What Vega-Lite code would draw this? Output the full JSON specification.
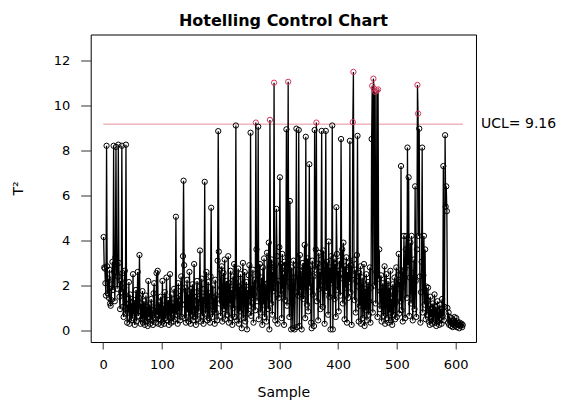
{
  "$schema": "https://vega.github.io/schema/vega-lite/v6.json",
  "width": 385.3,
  "height": 307.5,
  "autosize": "none",
  "padding": {"left": 90.7, "top": 34.5, "right": 87, "bottom": 59},
  "background": "white",
  "title": {
    "text": "Hotelling Control Chart",
    "font": "DejaVu Sans",
    "fontSize": 16,
    "fontWeight": "bold",
    "color": "black",
    "anchor": "middle",
    "baseline": "bottom",
    "offset": 10,
    "dy": 20
  },
  "config": {
    "view": {"stroke": "black", "strokeWidth": 1},
    "axis": {
      "grid": false,
      "domain": false,
      "tickColor": "#333333",
      "labelColor": "black",
      "labelFont": "DejaVu Sans",
      "labelFontSize": 13,
      "titleColor": "black",
      "titleFont": "DejaVu Sans",
      "titleFontSize": 14,
      "titleFontWeight": "normal"
    }
  },
  "encoding": {
    "x": {
      "field": "s",
      "type": "quantitative",
      "scale": {"domain": [-21, 634.6], "nice": false, "zero": false},
      "axis": {
        "title": "Sample",
        "values": [0, 100, 200, 300, 400, 500, 600],
        "tickSize": 7,
        "labelPadding": 9,
        "titleY": 50,
        "titleBaseline": "middle"
      }
    },
    "y": {
      "field": "t",
      "type": "quantitative",
      "scale": {"domain": [-0.51, 13.14], "nice": false, "zero": false},
      "axis": {
        "title": "T²",
        "values": [0, 2, 4, 6, 8, 10, 12],
        "tickSize": 10,
        "labelPadding": 11,
        "titleX": -72,
        "titleY": 153.5,
        "titleAlign": "center",
        "titleBaseline": "middle",
        "titleAngle": -90
      }
    }
  },
  "layer": [
    {
      "data": {"values": [{"from": 0.5, "to": 612.5, "ucl": 9.16}]},
      "mark": {"type": "rule", "color": "#e8909c", "strokeWidth": 1},
      "encoding": {
        "x": {"field": "from", "type": "quantitative"},
        "x2": {"field": "to"},
        "y": {"field": "ucl", "type": "quantitative"}
      }
    },
    {
      "data": {"name": "t2"},
      "layer": [
        {"mark": {"type": "line", "color": "black", "strokeWidth": 1.3}},
        {
          "mark": {"type": "point", "shape": "circle", "filled": false, "size": 28, "strokeWidth": 1, "opacity": 1},
          "encoding": {
            "color": {
              "condition": {"test": "datum.t > 9.16", "value": "#d2375a"},
              "value": "black"
            }
          }
        }
      ]
    },
    {
      "data": {"values": [{"edge": 634.6, "ucl": 9.16, "label": "UCL= 9.16"}]},
      "mark": {"type": "text", "align": "left", "baseline": "middle", "dx": 5, "font": "DejaVu Sans", "fontSize": 14, "color": "black"},
      "encoding": {
        "x": {"field": "edge", "type": "quantitative"},
        "y": {"field": "ucl", "type": "quantitative"},
        "text": {"field": "label"}
      }
    }
  ],
  "datasets": {
    "t2": [
      {"s":1,"t":4.15},{"s":2,"t":2.80},{"s":3,"t":2.75},{"s":4,"t":2.10},{"s":5,"t":1.55},{"s":6,"t":8.20},{"s":7,"t":2.85},{"s":8,"t":1.65},{"s":9,"t":2.30},{"s":10,"t":1.45},
      {"s":11,"t":2.70},{"s":12,"t":1.20},{"s":13,"t":1.10},{"s":14,"t":1.35},{"s":15,"t":2.05},{"s":16,"t":3.05},{"s":17,"t":1.80},{"s":18,"t":8.20},{"s":19,"t":2.60},{"s":20,"t":1.30},
      {"s":21,"t":3.25},{"s":22,"t":8.15},{"s":23,"t":2.95},{"s":24,"t":1.85},{"s":25,"t":2.40},{"s":26,"t":8.25},{"s":27,"t":3.00},{"s":28,"t":1.50},{"s":29,"t":0.95},{"s":30,"t":2.20},
      {"s":31,"t":1.70},{"s":32,"t":8.20},{"s":33,"t":2.55},{"s":34,"t":1.05},{"s":35,"t":0.60},{"s":36,"t":1.90},{"s":37,"t":2.65},{"s":38,"t":0.75},{"s":39,"t":8.25},{"s":40,"t":1.40},
      {"s":41,"t":0.35},{"s":42,"t":1.15},{"s":43,"t":0.80},{"s":44,"t":2.15},{"s":45,"t":0.30},{"s":46,"t":1.60},{"s":47,"t":0.90},{"s":48,"t":0.45},{"s":49,"t":1.25},{"s":50,"t":0.55},
      {"s":51,"t":2.50},{"s":52,"t":0.70},{"s":53,"t":1.35},{"s":54,"t":0.25},{"s":55,"t":0.95},{"s":56,"t":1.80},{"s":57,"t":0.40},{"s":58,"t":1.10},{"s":59,"t":2.60},{"s":60,"t":0.65},
      {"s":61,"t":1.45},{"s":62,"t":3.35},{"s":63,"t":0.85},{"s":64,"t":0.30},{"s":65,"t":1.20},{"s":66,"t":0.50},{"s":67,"t":1.75},{"s":68,"t":0.35},{"s":69,"t":0.95},{"s":70,"t":1.30},
      {"s":71,"t":0.25},{"s":72,"t":0.80},{"s":73,"t":1.55},{"s":74,"t":0.40},{"s":75,"t":1.05},{"s":76,"t":0.20},{"s":77,"t":2.20},{"s":78,"t":0.60},{"s":79,"t":1.15},{"s":80,"t":0.30},
      {"s":81,"t":0.75},{"s":82,"t":1.40},{"s":83,"t":0.45},{"s":84,"t":0.90},{"s":85,"t":0.25},{"s":86,"t":1.65},{"s":87,"t":2.10},{"s":88,"t":0.55},{"s":89,"t":1.00},{"s":90,"t":0.35},
      {"s":91,"t":2.55},{"s":92,"t":0.70},{"s":93,"t":2.65},{"s":94,"t":0.30},{"s":95,"t":1.25},{"s":96,"t":0.50},{"s":97,"t":0.85},{"s":98,"t":1.50},{"s":99,"t":0.25},{"s":100,"t":0.65},
      {"s":101,"t":2.20},{"s":102,"t":0.40},{"s":103,"t":1.10},{"s":104,"t":0.30},{"s":105,"t":1.70},{"s":106,"t":0.55},{"s":107,"t":0.95},{"s":108,"t":2.35},{"s":109,"t":0.45},{"s":110,"t":0.80},
      {"s":111,"t":1.35},{"s":112,"t":0.25},{"s":113,"t":1.05},{"s":114,"t":2.50},{"s":115,"t":0.60},{"s":116,"t":0.35},{"s":117,"t":1.60},{"s":118,"t":0.75},{"s":119,"t":1.20},{"s":120,"t":0.40},
      {"s":121,"t":1.85},{"s":122,"t":0.50},{"s":123,"t":0.95},{"s":124,"t":5.05},{"s":125,"t":0.70},{"s":126,"t":1.45},{"s":127,"t":0.30},{"s":128,"t":2.10},{"s":129,"t":0.85},{"s":130,"t":1.30},
      {"s":131,"t":0.45},{"s":132,"t":1.75},{"s":133,"t":2.40},{"s":134,"t":0.60},{"s":135,"t":1.15},{"s":136,"t":3.30},{"s":137,"t":6.65},{"s":138,"t":2.90},{"s":139,"t":0.55},{"s":140,"t":1.90},
      {"s":141,"t":0.35},{"s":142,"t":1.25},{"s":143,"t":2.25},{"s":144,"t":0.80},{"s":145,"t":1.60},{"s":146,"t":0.40},{"s":147,"t":2.60},{"s":148,"t":1.05},{"s":149,"t":0.30},{"s":150,"t":1.85},
      {"s":151,"t":0.70},{"s":152,"t":2.05},{"s":153,"t":0.45},{"s":154,"t":1.35},{"s":155,"t":2.95},{"s":156,"t":0.60},{"s":157,"t":1.10},{"s":158,"t":0.25},{"s":159,"t":1.70},{"s":160,"t":2.20},
      {"s":161,"t":0.50},{"s":162,"t":1.40},{"s":163,"t":0.85},{"s":164,"t":1.95},{"s":165,"t":3.55},{"s":166,"t":0.40},{"s":167,"t":1.20},{"s":168,"t":2.30},{"s":169,"t":0.65},{"s":170,"t":1.50},
      {"s":171,"t":0.30},{"s":172,"t":1.85},{"s":173,"t":6.60},{"s":174,"t":0.75},{"s":175,"t":1.30},{"s":176,"t":2.60},{"s":177,"t":0.45},{"s":178,"t":1.05},{"s":179,"t":2.15},{"s":180,"t":0.55},
      {"s":181,"t":1.65},{"s":182,"t":0.35},{"s":183,"t":2.40},{"s":184,"t":5.45},{"s":185,"t":1.10},{"s":186,"t":0.60},{"s":187,"t":2.00},{"s":188,"t":0.90},{"s":189,"t":1.45},{"s":190,"t":0.30},
      {"s":191,"t":2.25},{"s":192,"t":0.80},{"s":193,"t":1.55},{"s":194,"t":0.45},{"s":195,"t":3.10},{"s":196,"t":8.85},{"s":197,"t":3.50},{"s":198,"t":1.20},{"s":199,"t":2.70},{"s":200,"t":0.65},
      {"s":201,"t":1.90},{"s":202,"t":2.85},{"s":203,"t":0.40},{"s":204,"t":1.35},{"s":205,"t":2.55},{"s":206,"t":0.95},{"s":207,"t":3.15},{"s":208,"t":0.50},{"s":209,"t":1.75},{"s":210,"t":2.20},
      {"s":211,"t":0.70},{"s":212,"t":1.45},{"s":213,"t":3.30},{"s":214,"t":0.35},{"s":215,"t":2.10},{"s":216,"t":1.20},{"s":217,"t":2.65},{"s":218,"t":0.55},{"s":219,"t":1.80},{"s":220,"t":0.25},
      {"s":221,"t":2.40},{"s":222,"t":1.00},{"s":223,"t":2.95},{"s":224,"t":0.60},{"s":225,"t":1.65},{"s":226,"t":9.10},{"s":227,"t":2.30},{"s":228,"t":0.45},{"s":229,"t":1.50},{"s":230,"t":2.75},
      {"s":231,"t":0.30},{"s":232,"t":1.95},{"s":233,"t":0.85},{"s":234,"t":2.50},{"s":235,"t":1.25},{"s":236,"t":0.10},{"s":237,"t":2.05},{"s":238,"t":3.00},{"s":239,"t":0.55},{"s":240,"t":1.70},
      {"s":241,"t":2.60},{"s":242,"t":0.40},{"s":243,"t":1.35},{"s":244,"t":2.15},{"s":245,"t":0.05},{"s":246,"t":1.80},{"s":247,"t":0.75},{"s":248,"t":2.45},{"s":249,"t":2.90},{"s":250,"t":1.10},
      {"s":251,"t":8.78},{"s":252,"t":0.65},{"s":253,"t":2.00},{"s":254,"t":1.45},{"s":255,"t":2.70},{"s":256,"t":0.35},{"s":257,"t":1.60},{"s":258,"t":2.25},{"s":259,"t":0.90},{"s":260,"t":9.23},
      {"s":261,"t":3.60},{"s":262,"t":1.30},{"s":263,"t":2.50},{"s":264,"t":9.05},{"s":265,"t":0.50},{"s":266,"t":1.85},{"s":267,"t":2.95},{"s":268,"t":0.80},{"s":269,"t":1.40},{"s":270,"t":2.35},
      {"s":271,"t":0.25},{"s":272,"t":2.80},{"s":273,"t":1.15},{"s":274,"t":3.20},{"s":275,"t":0.60},{"s":276,"t":2.05},{"s":277,"t":1.55},{"s":278,"t":0.40},{"s":279,"t":3.45},{"s":280,"t":2.10},
      {"s":281,"t":0.95},{"s":282,"t":3.90},{"s":283,"t":0.05},{"s":284,"t":9.35},{"s":285,"t":2.40},{"s":286,"t":1.20},{"s":287,"t":3.15},{"s":288,"t":0.70},{"s":289,"t":2.60},{"s":290,"t":1.75},
      {"s":291,"t":11.00},{"s":292,"t":2.85},{"s":293,"t":0.45},{"s":294,"t":1.90},{"s":295,"t":5.40},{"s":296,"t":3.30},{"s":297,"t":0.30},{"s":298,"t":2.20},{"s":299,"t":1.45},{"s":300,"t":3.70},
      {"s":301,"t":6.80},{"s":302,"t":1.60},{"s":303,"t":2.95},{"s":304,"t":0.55},{"s":305,"t":3.40},{"s":306,"t":1.85},{"s":307,"t":2.50},{"s":308,"t":0.25},{"s":309,"t":3.05},{"s":310,"t":1.35},
      {"s":311,"t":2.70},{"s":312,"t":8.93},{"s":313,"t":1.10},{"s":314,"t":3.25},{"s":315,"t":11.04},{"s":316,"t":2.15},{"s":317,"t":0.60},{"s":318,"t":5.75},{"s":319,"t":1.90},{"s":320,"t":0.05},
      {"s":321,"t":2.80},{"s":322,"t":1.25},{"s":323,"t":0.10},{"s":324,"t":3.10},{"s":325,"t":2.35},{"s":326,"t":0.05},{"s":327,"t":1.70},{"s":328,"t":2.90},{"s":329,"t":8.96},{"s":330,"t":0.15},
      {"s":331,"t":2.45},{"s":332,"t":1.55},{"s":333,"t":8.90},{"s":334,"t":0.20},{"s":335,"t":3.35},{"s":336,"t":1.80},{"s":337,"t":2.65},{"s":338,"t":0.05},{"s":339,"t":2.10},{"s":340,"t":3.00},
      {"s":341,"t":1.40},{"s":342,"t":2.75},{"s":343,"t":3.80},{"s":344,"t":0.55},{"s":345,"t":8.60},{"s":346,"t":2.25},{"s":347,"t":1.15},{"s":348,"t":3.20},{"s":349,"t":0.85},{"s":350,"t":2.55},
      {"s":351,"t":7.38},{"s":352,"t":1.95},{"s":353,"t":2.85},{"s":354,"t":0.35},{"s":355,"t":0.10},{"s":356,"t":3.10},{"s":357,"t":1.60},{"s":358,"t":2.40},{"s":359,"t":0.20},{"s":360,"t":8.90},
      {"s":361,"t":2.70},{"s":362,"t":3.60},{"s":363,"t":9.23},{"s":364,"t":1.30},{"s":365,"t":2.95},{"s":366,"t":0.45},{"s":367,"t":3.45},{"s":368,"t":1.85},{"s":369,"t":2.60},{"s":370,"t":0.95},
      {"s":371,"t":3.15},{"s":372,"t":8.86},{"s":373,"t":2.20},{"s":374,"t":1.05},{"s":375,"t":3.55},{"s":376,"t":2.45},{"s":377,"t":0.30},{"s":378,"t":2.90},{"s":379,"t":8.86},{"s":380,"t":1.75},
      {"s":381,"t":3.05},{"s":382,"t":2.35},{"s":383,"t":0.70},{"s":384,"t":3.95},{"s":385,"t":1.50},{"s":386,"t":2.80},{"s":387,"t":0.05},{"s":388,"t":3.30},{"s":389,"t":2.10},{"s":390,"t":9.10},
      {"s":391,"t":0.05},{"s":392,"t":2.55},{"s":393,"t":3.20},{"s":394,"t":1.40},{"s":395,"t":2.95},{"s":396,"t":0.60},{"s":397,"t":5.47},{"s":398,"t":3.40},{"s":399,"t":1.80},{"s":400,"t":2.65},
      {"s":401,"t":0.85},{"s":402,"t":3.10},{"s":403,"t":2.30},{"s":404,"t":1.55},{"s":405,"t":8.50},{"s":406,"t":2.75},{"s":407,"t":3.60},{"s":408,"t":1.20},{"s":409,"t":3.90},{"s":410,"t":2.40},
      {"s":411,"t":0.50},{"s":412,"t":2.85},{"s":413,"t":1.90},{"s":414,"t":3.25},{"s":415,"t":0.35},{"s":416,"t":2.60},{"s":417,"t":1.45},{"s":418,"t":3.00},{"s":419,"t":2.15},{"s":420,"t":8.42},
      {"s":421,"t":1.70},{"s":422,"t":2.90},{"s":423,"t":0.25},{"s":424,"t":2.45},{"s":425,"t":9.25},{"s":426,"t":11.48},{"s":427,"t":3.15},{"s":428,"t":1.35},{"s":429,"t":2.70},{"s":430,"t":0.80},
      {"s":431,"t":2.20},{"s":432,"t":3.35},{"s":433,"t":8.64},{"s":434,"t":1.95},{"s":435,"t":0.40},{"s":436,"t":2.55},{"s":437,"t":1.10},{"s":438,"t":2.85},{"s":439,"t":0.30},{"s":440,"t":1.75},
      {"s":441,"t":2.35},{"s":442,"t":0.55},{"s":443,"t":1.40},{"s":444,"t":2.95},{"s":445,"t":0.20},{"s":446,"t":1.85},{"s":447,"t":0.90},{"s":448,"t":2.50},{"s":449,"t":0.45},{"s":450,"t":1.60},
      {"s":451,"t":2.15},{"s":452,"t":0.70},{"s":453,"t":1.30},{"s":454,"t":2.80},{"s":455,"t":0.35},{"s":456,"t":1.90},{"s":457,"t":8.50},{"s":458,"t":10.86},{"s":459,"t":0.80},{"s":460,"t":11.18},
      {"s":461,"t":10.74},{"s":462,"t":2.00},{"s":463,"t":10.60},{"s":464,"t":1.20},{"s":465,"t":2.60},{"s":466,"t":10.65},{"s":467,"t":0.60},{"s":468,"t":10.70},{"s":469,"t":2.30},{"s":470,"t":3.60},
      {"s":471,"t":0.95},{"s":472,"t":1.75},{"s":473,"t":2.45},{"s":474,"t":0.40},{"s":475,"t":1.55},{"s":476,"t":2.10},{"s":477,"t":0.65},{"s":478,"t":1.25},{"s":479,"t":2.85},{"s":480,"t":0.30},
      {"s":481,"t":1.70},{"s":482,"t":2.50},{"s":483,"t":0.55},{"s":484,"t":1.15},{"s":485,"t":2.20},{"s":486,"t":0.35},{"s":487,"t":1.90},{"s":488,"t":0.80},{"s":489,"t":2.65},{"s":490,"t":0.45},
      {"s":491,"t":1.40},{"s":492,"t":0.25},{"s":493,"t":2.05},{"s":494,"t":0.70},{"s":495,"t":1.60},{"s":496,"t":2.35},{"s":497,"t":0.50},{"s":498,"t":1.25},{"s":499,"t":2.80},{"s":500,"t":0.60},
      {"s":501,"t":1.85},{"s":502,"t":2.45},{"s":503,"t":3.40},{"s":504,"t":0.75},{"s":505,"t":2.15},{"s":506,"t":1.30},{"s":507,"t":7.30},{"s":508,"t":0.90},{"s":509,"t":2.60},{"s":510,"t":0.40},
      {"s":511,"t":1.95},{"s":512,"t":4.20},{"s":513,"t":2.70},{"s":514,"t":0.55},{"s":515,"t":3.60},{"s":516,"t":4.20},{"s":517,"t":1.45},{"s":518,"t":8.12},{"s":519,"t":2.90},{"s":520,"t":6.80},
      {"s":521,"t":0.65},{"s":522,"t":2.35},{"s":523,"t":3.90},{"s":524,"t":1.20},{"s":525,"t":4.20},{"s":526,"t":2.55},{"s":527,"t":0.45},{"s":528,"t":1.80},{"s":529,"t":3.15},{"s":530,"t":0.95},
      {"s":531,"t":6.40},{"s":532,"t":2.20},{"s":533,"t":0.60},{"s":534,"t":3.60},{"s":535,"t":10.90},{"s":536,"t":9.63},{"s":537,"t":4.20},{"s":538,"t":8.96},{"s":539,"t":2.40},{"s":540,"t":0.35},
      {"s":541,"t":1.70},{"s":542,"t":3.05},{"s":543,"t":8.12},{"s":544,"t":0.80},{"s":545,"t":2.45},{"s":546,"t":4.20},{"s":547,"t":1.15},{"s":548,"t":3.60},{"s":549,"t":0.50},{"s":550,"t":1.95},
      {"s":551,"t":0.70},{"s":552,"t":1.35},{"s":553,"t":1.90},{"s":554,"t":0.40},{"s":555,"t":1.10},{"s":556,"t":0.25},{"s":557,"t":1.50},{"s":558,"t":0.60},{"s":559,"t":0.95},{"s":560,"t":0.30},
      {"s":561,"t":1.20},{"s":562,"t":0.45},{"s":563,"t":0.80},{"s":564,"t":1.60},{"s":565,"t":0.35},{"s":566,"t":1.05},{"s":567,"t":0.20},{"s":568,"t":0.70},{"s":569,"t":1.30},{"s":570,"t":0.40},
      {"s":571,"t":0.85},{"s":572,"t":0.25},{"s":573,"t":1.15},{"s":574,"t":0.55},{"s":575,"t":0.95},{"s":576,"t":0.30},{"s":577,"t":1.40},{"s":578,"t":0.65},{"s":579,"t":7.30},{"s":580,"t":0.45},
      {"s":581,"t":1.05},{"s":582,"t":8.67},{"s":583,"t":5.50},{"s":584,"t":6.40},{"s":585,"t":5.30},{"s":586,"t":1.00},{"s":587,"t":0.35},{"s":588,"t":0.80},{"s":589,"t":0.25},{"s":590,"t":0.60},
      {"s":591,"t":0.40},{"s":592,"t":0.20},{"s":593,"t":0.55},{"s":594,"t":0.30},{"s":595,"t":0.15},{"s":596,"t":0.45},{"s":597,"t":0.25},{"s":598,"t":0.60},{"s":599,"t":0.20},{"s":600,"t":0.35},
      {"s":601,"t":0.55},{"s":602,"t":0.15},{"s":603,"t":0.40},{"s":604,"t":0.25},{"s":605,"t":0.30},{"s":606,"t":0.10},{"s":607,"t":0.35},{"s":608,"t":0.20},{"s":609,"t":0.25},{"s":610,"t":0.30},
      {"s":611,"t":0.15},{"s":612,"t":0.25}
    ]
  }
}
